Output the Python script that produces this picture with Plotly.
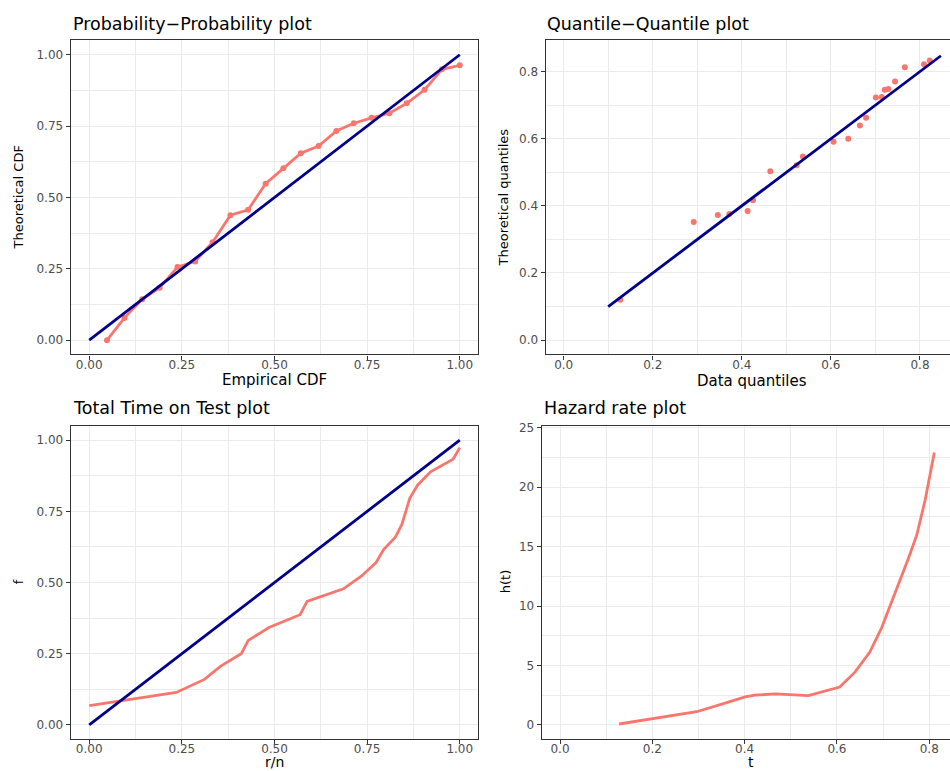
import plotly.graph_objects as go

# ---------------- data ----------------
pp_empirical = [0.048, 0.095, 0.143, 0.190, 0.238, 0.286, 0.333, 0.381, 0.429, 0.476,
                0.524, 0.571, 0.619, 0.667, 0.714, 0.762, 0.810, 0.857, 0.905, 0.952, 1.000]
pp_theoretical = [0.000, 0.078, 0.143, 0.184, 0.256, 0.276, 0.343, 0.438, 0.457, 0.548,
                  0.602, 0.655, 0.680, 0.733, 0.760, 0.779, 0.795, 0.830, 0.877, 0.949, 0.963]
pp_ref_line = [0.0, 1.0]

qq_data = [0.127, 0.292, 0.346, 0.372, 0.413, 0.425, 0.464, 0.523, 0.537, 0.606, 0.639,
           0.665, 0.679, 0.701, 0.714, 0.721, 0.729, 0.744, 0.766, 0.809, 0.822]
qq_theoretical = [0.120, 0.352, 0.373, 0.376, 0.385, 0.417, 0.503, 0.521, 0.547, 0.591, 0.600,
                  0.639, 0.662, 0.723, 0.724, 0.746, 0.748, 0.770, 0.813, 0.822, 0.833]
qq_ref_line = [0.10, 0.847]

ttt_rn = [0.000, 0.235, 0.311, 0.354, 0.411, 0.429, 0.485, 0.569, 0.588, 0.686,
          0.736, 0.774, 0.794, 0.826, 0.844, 0.865, 0.886, 0.921, 0.982, 1.000]
ttt_f = [0.068, 0.114, 0.160, 0.206, 0.251, 0.297, 0.342, 0.387, 0.434, 0.478,
         0.524, 0.570, 0.615, 0.659, 0.705, 0.796, 0.842, 0.889, 0.933, 0.974]
ttt_ref_line = [0.0, 1.0]

hz_t = [0.128, 0.296, 0.354, 0.401, 0.422, 0.466, 0.538, 0.606, 0.639, 0.671, 0.697,
        0.718, 0.736, 0.755, 0.773, 0.791, 0.811]
hz_h = [0.08, 1.11, 1.80, 2.36, 2.50, 2.61, 2.47, 3.19, 4.44, 6.11, 8.19,
        10.28, 12.08, 14.03, 15.97, 18.89, 22.92]

titles = ["Probability\u2212Probability plot", "Quantile\u2212Quantile plot",
          "Total Time on Test plot", "Hazard rate plot"]
x_titles = ["Empirical CDF", "Data quantiles", "r/n", "t"]
y_titles = ["Theoretical CDF", "Theoretical quantiles", "f", "h(t)"]

# ---------------- style ----------------
W, H = 950, 771
RED = "#F8766D"
BLUE = "#00008B"
FONT = "DejaVu Sans"


def px(x):
    return x / W


def py(y):
    return 1 - y / H


fig = go.Figure()

# PP
fig.add_trace(go.Scatter(x=pp_empirical, y=pp_theoretical, mode="lines+markers",
                         line=dict(color=RED, width=2.8), marker=dict(color=RED, size=6),
                         xaxis="x", yaxis="y", showlegend=False))
fig.add_trace(go.Scatter(x=pp_ref_line, y=pp_ref_line, mode="lines",
                         line=dict(color=BLUE, width=2.8), xaxis="x", yaxis="y", showlegend=False))
# QQ
fig.add_trace(go.Scatter(x=qq_data, y=qq_theoretical, mode="markers",
                         marker=dict(color=RED, size=6), xaxis="x2", yaxis="y2", showlegend=False))
fig.add_trace(go.Scatter(x=qq_ref_line, y=qq_ref_line, mode="lines",
                         line=dict(color=BLUE, width=2.8), xaxis="x2", yaxis="y2", showlegend=False))
# TTT
fig.add_trace(go.Scatter(x=ttt_rn, y=ttt_f, mode="lines",
                         line=dict(color=RED, width=2.8), xaxis="x3", yaxis="y3", showlegend=False))
fig.add_trace(go.Scatter(x=ttt_ref_line, y=ttt_ref_line, mode="lines",
                         line=dict(color=BLUE, width=2.8), xaxis="x3", yaxis="y3", showlegend=False))
# Hazard
fig.add_trace(go.Scatter(x=hz_t, y=hz_h, mode="lines",
                         line=dict(color=RED, width=2.8), xaxis="x4", yaxis="y4", showlegend=False))


def axis(domain, rng, dtick, minor_dtick, fmt, anchor, mirror=True, standoff=None):
    d = dict(
        domain=domain, range=rng, anchor=anchor, autorange=False,
        tick0=0, dtick=dtick, tickformat=fmt,
        showgrid=True, gridcolor="#EBEBEB", gridwidth=1.1,
        minor=dict(showgrid=True, gridcolor="#EBEBEB", gridwidth=0.55,
                   dtick=minor_dtick, tick0=0, ticks=""),
        zeroline=False, showline=True, linecolor="#333333", linewidth=1.2,
        mirror=mirror, ticks="outside", ticklen=4, tickwidth=1, tickcolor="#333333",
        tickfont=dict(family=FONT, size=12, color="#4D4D4D"),
    )
    if standoff is not None:
        d["ticklabelstandoff"] = standoff
    return d


xd_left = [px(70.7), px(478.3)]
xd_qq = [px(545.7), 1.0]
xd_hz = [px(541.7), 1.0]
yd_top = [py(351.7), py(35.7)]
yd_bot = [py(739.0), py(423.7)]

fig.update_layout(
    width=W, height=H,
    margin=dict(l=0, r=0, t=0, b=0),
    paper_bgcolor="white", plot_bgcolor="white",
    font=dict(family=FONT, color="black"),
    xaxis=axis(xd_left, [-0.05, 1.05], 0.25, 0.125, ".2f", "y", standoff=-5),
    yaxis=axis(yd_top, [-0.05, 1.05], 0.25, 0.125, ".2f", "x"),
    xaxis2=axis(xd_qq, [-0.0404, 0.8674], 0.2, 0.1, ".1f", "y2", standoff=-5),
    yaxis2=axis(yd_top, [-0.0425, 0.8925], 0.2, 0.1, ".1f", "x2", mirror=False),
    xaxis3=axis(xd_left, [-0.05, 1.05], 0.25, 0.125, ".2f", "y3", standoff=-6),
    yaxis3=axis(yd_bot, [-0.05, 1.05], 0.25, 0.125, ".2f", "x3"),
    xaxis4=axis(xd_hz, [-0.0397, 0.845], 0.2, 0.1, ".1f", "y4", standoff=-6),
    yaxis4=axis(yd_bot, [-1.2, 25.15], 5, 2.5, "d", "x4", mirror=False),
)

annotations = []
# subplot titles
for text, x, y in zip(titles, [71, 545, 71, 541.7], [19, 19, 406, 406]):
    annotations.append(dict(text=text, x=px(x), y=py(y), xref="paper", yref="paper",
                            xanchor="left", yanchor="middle", showarrow=False,
                            font=dict(family=FONT, size=17.5, color="black")))
# x axis titles (top row)
for text, x, y in zip(x_titles[:2], [274.5, 752], [377, 378]):
    annotations.append(dict(text=text, x=px(x), y=py(y), xref="paper", yref="paper",
                            xanchor="center", yanchor="middle", showarrow=False,
                            font=dict(family=FONT, size=15, color="black")))
# x axis titles (bottom row, sitting on the lower edge)
for text, x in zip(x_titles[2:], [274.5, 750.7]):
    annotations.append(dict(text=text, x=px(x), y=0, xref="paper", yref="paper",
                            xanchor="center", yanchor="bottom", showarrow=False, borderpad=0,
                            font=dict(family=FONT, size=14, color="black")))
# y axis titles
for text, x, y in zip(y_titles, [18, 503, 18, 505], [193.7, 193.7, 581, 581]):
    annotations.append(dict(text=text, x=px(x), y=py(y), xref="paper", yref="paper",
                            xanchor="center", yanchor="middle", showarrow=False, textangle=-90,
                            font=dict(family=FONT, size=13, color="black")))
fig.update_layout(annotations=annotations)

fig.write_html("out.html")
